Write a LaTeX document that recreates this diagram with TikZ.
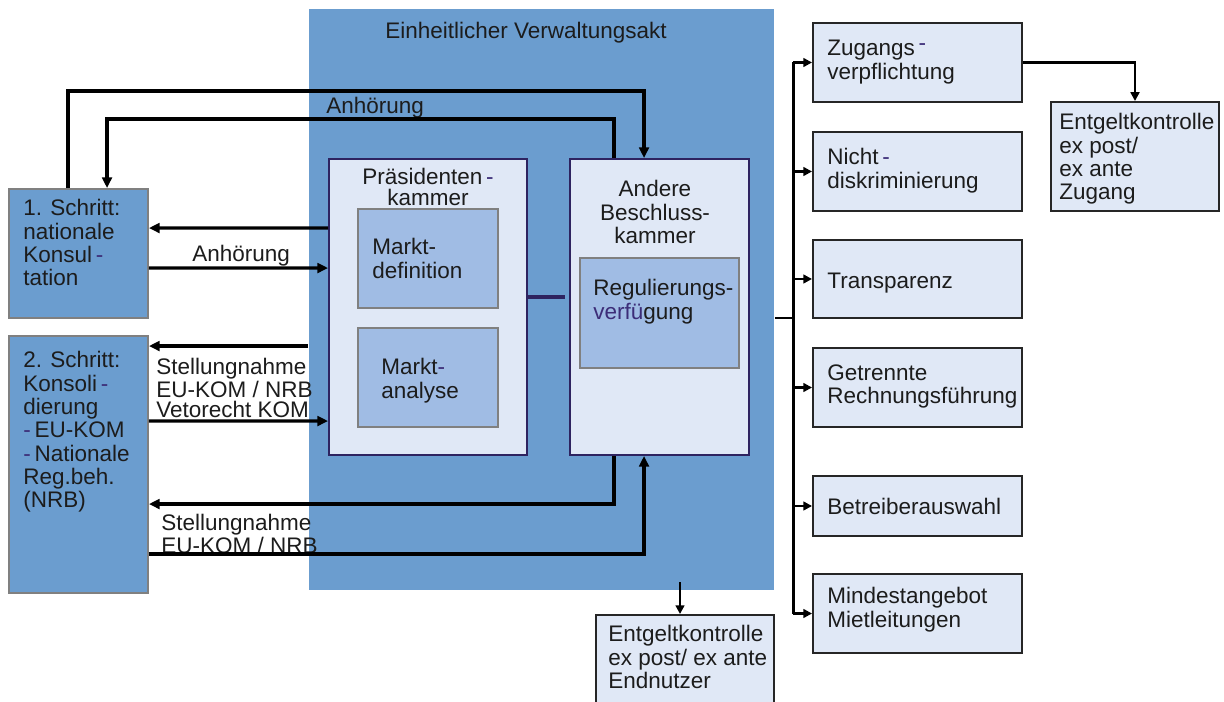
\documentclass[tikz,border=0pt]{standalone}
\usepackage{fontspec}
\setmainfont{Liberation Sans}
\usetikzlibrary{arrows.meta,calc,fit}

\definecolor{aktblue}{RGB}{107,157,207}
\definecolor{lightbox}{RGB}{224,232,246}
\definecolor{innerbox}{RGB}{160,188,228}
\definecolor{frame}{RGB}{46,35,96}
\definecolor{hyph}{RGB}{60,45,120}
\definecolor{txt}{RGB}{28,28,28}

\tikzset{
  box/.style={inner sep=0pt, line width=1.1pt},
  stepbox/.style={box, fill=aktblue, draw=gray},
  kammer/.style={box, fill=lightbox, draw=frame},
  subbox/.style={box, fill=innerbox, draw=gray},
  pflicht/.style={box, fill=lightbox, draw=black!85},
  lbl/.style={inner sep=0pt, anchor=north west, align=left, text=txt,
    font=\fontsize{12.8}{13.3}\selectfont},
  lbltight/.style={lbl, font=\fontsize{12.8}{11.6}\selectfont},
  conn/.style={line width=1.8pt, -{Triangle[length=6pt,width=5.5pt]}},
  bus/.style={line width=1.7pt},
  busarr/.style={line width=1.3pt, -{Triangle[length=5pt,width=5pt]}},
  link/.style={line width=2.6pt, draw=frame},
}
\newcommand{\hy}{{\color{hyph}-}}

\begin{document}
\begin{tikzpicture}[x=0.02cm, y=-0.02cm]
  \useasboundingbox (0,0) rectangle (1224,702);
  \clip (0,0) rectangle (1224,702);

  % Verwaltungsakt
  \node (akt) [box, fill=aktblue, fit={(309,9) (774,590)}] {};
  \node (tit) [lbl] at (385,22) {Einheitlicher Verwaltungsakt};

  \node (praes) [kammer, fit={(329,159) (527,455)}] {};
  \node (mdef) [subbox, fit={(358,209) (498,308)}] {};
  \node (mana) [subbox, fit={(358,328) (498,427)}] {};
  \node (andere) [kammer, fit={(570,159) (749,455)}] {};
  \node (regv) [subbox, fit={(580,258) (739,368)}] {};

  \node (tpraes) [lbl, anchor=north, align=center] at (428,168) {Präsidenten\,\hy\\[-1.2pt]kammer};
  \node (tmdef) [lbl] at (372,238) {Markt-\\definition};
  \node (tmana) [lbl] at (381,358) {Markt\hy\\analyse};
  \node (tandere) [lbl, anchor=north, align=center] at (655,180) {Andere\\Beschluss-\\kammer};
  \node (tregv) [lbl] at (593,279) {Regulierungs-\\{\color{hyph}verfü}gung};

  % Schritte
  \node (schritt1) [stepbox, fit={(9,189) (148,318)}] {};
  \node (schritt2) [stepbox, fit={(9,336) (148,593)}] {};
  \node (tschritt1) [lbl] at (23,199) {1. Schritt:\\nationale\\Konsul\,\hy\\tation};
  \node (tschritt2) [lbl] at (23,351) {2. Schritt:\\Konsoli\,\hy\\dierung\\\hy\,EU-KOM\\\hy\,Nationale\\Reg.beh.\\(NRB)};

  \node (anh1) [lbl] at (326,97) {Anhörung};
  \node (anh2) [lbl] at (192,245) {Anhörung};
  \node (stell1) [lbltight] at (156,358) {Stellungnahme\\EU-KOM / NRB\\Vetorecht KOM};
  \node (stell2) [lbltight] at (161,514) {Stellungnahme\\EU-KOM / NRB};

  % Verpflichtungen
  \node (zug) [pflicht, fit={(813,23) (1022,102)}] {};
  \node (nichtd) [pflicht, fit={(813,132) (1022,211)}] {};
  \node (transp) [pflicht, fit={(813,240) (1022,318)}] {};
  \node (getr) [pflicht, fit={(813,348) (1022,427)}] {};
  \node (betr) [pflicht, fit={(813,476) (1022,536)}] {};
  \node (mind) [pflicht, fit={(813,574) (1022,653)}] {};
  \node (entzug) [pflicht, fit={(1051,102) (1219,211)}] {};
  \node (entend) [pflicht, fit={(596,615) (774,715)}] {};

  \node (tzug) [lbl] at (827,40) {Zugangs\,\raisebox{3pt}{\hy}\\verpflichtung};
  \node (tnichtd) [lbl] at (827,148) {Nicht\,\hy\\diskriminierung};
  \node (ttransp) [lbl] at (827,273) {Transparenz};
  \node (tgetr) [lbl] at (827,364) {Getrennte\\Rechnungsführung};
  \node (tbetr) [lbl] at (827,498) {Betreiberauswahl};
  \node (tmind) [lbl] at (827,587) {Mindestangebot\\Mietleitungen};
  \node (tentzug) [lbl] at (1059,113) {Entgeltkontrolle\\ex post/\\ex ante\\Zugang};
  \node (tentend) [lbl] at (608,625) {Entgeltkontrolle\\ex post/ ex ante\\Endnutzer};

  % Verbindungen links
  \draw[conn] ($(schritt1.north west)+(60,0)$) |- ($(andere.north west)+(75,-67)$) -- ($(andere.north west)+(75,0)$);
  \draw[conn] ($(andere.north west)+(45,0)$) |- ($(schritt1.north west)+(99,-69)$) -- ($(schritt1.north west)+(99,0)$);
  \draw[conn] ($(praes.north west)+(0,70)$) -- ($(schritt1.north east)+(0,40)$);
  \draw[conn] ($(schritt1.north east)+(0,80)$) -- ($(praes.north west)+(0,110)$);
  \draw[conn] ($(akt.north west)+(0,338)$) -- ($(schritt2.north east)+(0,11)$);
  \draw[conn] ($(schritt2.north east)+(0,86)$) -- ($(praes.north west)+(0,263)$);
  \draw[conn] ($(andere.south west)+(45,0)$) |- ($(schritt2.north east)+(0,169)$);
  \draw[conn] ($(schritt2.north east)+(0,219)$) -| ($(andere.south west)+(75,0)$);
  \draw[link] ($(praes.north east)+(0,139)$) -- ($(andere.north west)+(-4,139)$);

  % Verbindungen rechts
  \coordinate (bus) at (793,318);
  \draw[bus] (akt.east |- bus) -- (bus);
  \draw[bus] (bus |- zug.west) -- (bus |- mind.west);
  \foreach \b in {zug,nichtd,transp,getr,betr,mind}
    \draw[busarr] (bus |- \b.west) -- (\b.west);
  \draw[busarr] (zug.east) -| (entzug.north);
  \draw[busarr] ($(entend.north)+(-5,-32)$) -- ($(entend.north)+(-5,0)$);
\end{tikzpicture}
\end{document}
